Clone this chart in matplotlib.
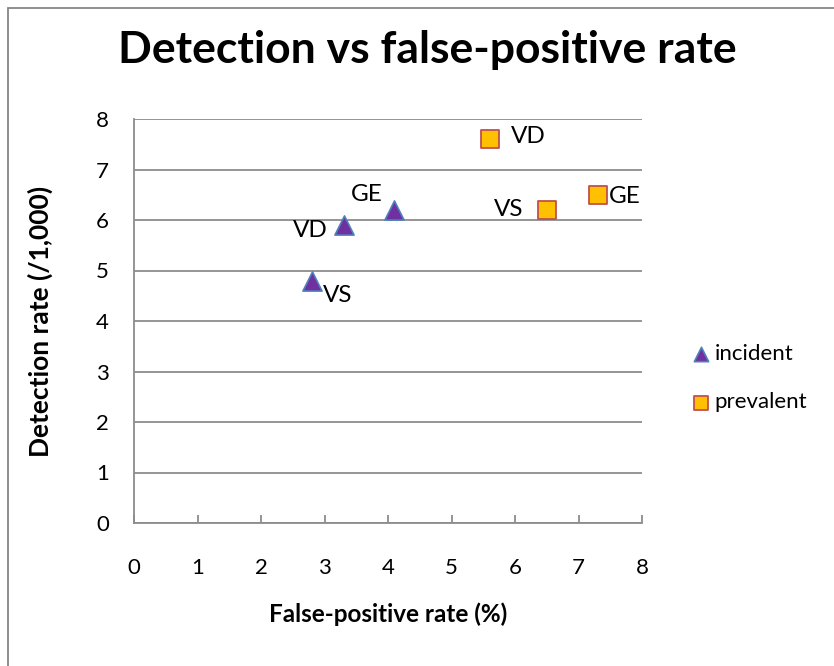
import matplotlib
matplotlib.use("Agg")
import matplotlib.pyplot as plt
from matplotlib.patches import Rectangle

plt.rcParams['font.family'] = ['Lato', 'DejaVu Sans']

series_names = ["incident", "prevalent"]
labels = ["VS", "VD", "GE"]
incident_x = [2.8, 3.3, 4.1]
incident_y = [4.8, 5.9, 6.2]
prevalent_x = [6.5, 5.6, 7.3]
prevalent_y = [6.2, 7.6, 6.5]

W, H = 834, 666
fig = plt.figure(figsize=(W / 100, H / 100), dpi=100)
fig.patches.append(Rectangle((8 / W, -0.1), 1.2, 1 - 7.5 / H + 0.1, transform=fig.transFigure,
                             fill=False, edgecolor='#868686', linewidth=1.3))

ax = fig.add_axes([134 / W, 1 - 523 / H, (642 - 134) / W, (523 - 119) / H])
ax.set_xlim(0, 8)
ax.set_ylim(0, 8)
ax.set_xticks(range(0, 9))
ax.set_yticks(range(0, 9))
ax.yaxis.grid(True, color='#8c8c8c', linewidth=1.3)
ax.set_axisbelow(True)
for s in ['top', 'right']:
    ax.spines[s].set_visible(False)
for s in ['left', 'bottom']:
    ax.spines[s].set_color('#8c8c8c')
    ax.spines[s].set_linewidth(1.3)
ax.tick_params(axis='x', direction='in', length=6, width=1.3, color='#8c8c8c', labelsize=16, pad=25)
ax.tick_params(axis='y', length=0, labelsize=16, pad=18)

ax.scatter(incident_x, incident_y, marker='^', s=190, facecolor='#7030A0', edgecolor='#4F81BD',
           linewidth=1.2, label=series_names[0], zorder=3)
ax.scatter(prevalent_x, prevalent_y, marker='s', s=170, facecolor='#FFC000', edgecolor='#C0504D',
           linewidth=1.3, label=series_names[1], zorder=3)

inc_off = [(11, -15, 'left'), (-16, -5, 'right'), (-12, 15, 'right')]
prev_off = [(-23, 0, 'right'), (21, 3, 'left'), (11, -2, 'left')]
for x, y, lab, (dx, dy, ha) in zip(incident_x, incident_y, labels, inc_off):
    ax.annotate(lab, (x, y), xytext=(dx, dy), textcoords='offset pixels', ha=ha, va='center', fontsize=17.5)
for x, y, lab, (dx, dy, ha) in zip(prevalent_x, prevalent_y, labels, prev_off):
    ax.annotate(lab, (x, y), xytext=(dx, dy), textcoords='offset pixels', ha=ha, va='center', fontsize=17.5)

ax.set_xlabel("False-positive rate (%)", fontsize=17.5, fontweight='bold', labelpad=18)
ax.set_ylabel("Detection rate (/1,000)", fontsize=19, fontweight='bold', labelpad=31)

fig.text((118 + 737) / 2 / W, 1 - 50 / H, "Detection vs false-positive rate", ha='center', va='center',
         fontsize=32, fontweight='bold')

fig.legend(loc='center left', bbox_to_anchor=(668 / W, 1 - 378 / H), frameon=False, fontsize=16,
           handletextpad=0.0, labelspacing=1.3, markerscale=0.75, handlelength=1.2)

fig.savefig("out.png", dpi=100)
